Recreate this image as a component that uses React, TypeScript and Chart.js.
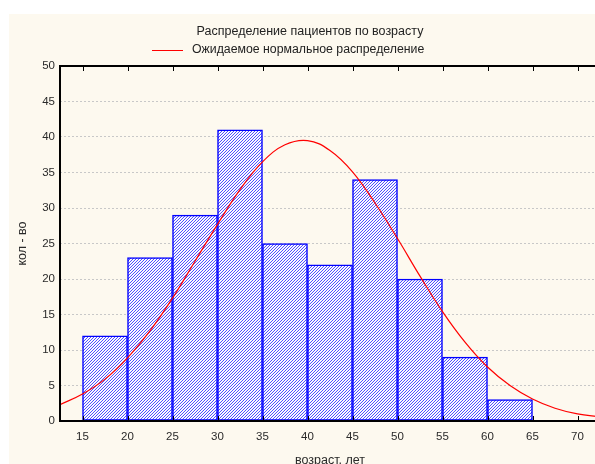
import React, { useEffect, useRef } from "react";
import { Chart, registerables } from "chart.js";

Chart.register(...registerables);

// ---- data ----
const BIN_STARTS = [15, 20, 25, 30, 35, 40, 45, 50, 55, 60];
const BIN_WIDTH = 5;
const PATIENT_COUNTS = [12, 23, 29, 41, 25, 22, 34, 20, 9, 3];

const CURVE_X = [12.5, 15, 17.5, 20, 22.5, 25, 27.5, 30, 32.5, 35, 37.5, 40, 42.5, 45, 47.5, 50, 52.5, 55, 57.5, 60, 62.5, 65, 67.5, 70, 72.5];
const CURVE_Y = [2.3, 3.8, 5.9, 8.9, 12.7, 17.3, 22.5, 27.7, 32.6, 36.5, 38.9, 39.5, 38.1, 35.1, 30.7, 25.7, 20.4, 15.4, 11.1, 7.6, 5.0, 3.1, 1.8, 1.0, 0.6];

const X_TICKS = [15, 20, 25, 30, 35, 40, 45, 50, 55, 60, 65, 70];
const X_MIN = 12.5;
const X_MAX = 72.5;
const Y_MIN = 0;
const Y_MAX = 50;
const Y_STEP = 5;

const TITLE = "Распределение пациентов по возрасту";
const LEGEND_LABEL = "Ожидаемое нормальное распределение";
const X_TITLE = "возраст, лет";
const Y_TITLE = "кол - во";

const FONT = "'Liberation Sans', Arial, sans-serif";
const CREAM = "#fdf9ef";

function makeHatch(): CanvasPattern | string {
  const c = document.createElement("canvas");
  c.width = 3;
  c.height = 3;
  const g = c.getContext("2d");
  if (!g) return "#8080ff";
  g.fillStyle = "#ffffff";
  g.fillRect(0, 0, 3, 3);
  g.fillStyle = "#5050ff";
  g.fillRect(0, 2, 1, 1);
  g.fillRect(1, 1, 1, 1);
  g.fillRect(2, 0, 1, 1);
  g.fillStyle = "#f2f2ff";
  g.fillRect(0, 1, 1, 1);
  g.fillRect(1, 0, 1, 1);
  g.fillRect(2, 2, 1, 1);
  const p = g.createPattern(c, "repeat");
  return p || "#8080ff";
}

const framePlugin = {
  id: "frame",
  afterDatasetsDraw(chart: any) {
    const { ctx, chartArea } = chart;
    const { left, right, top, bottom } = chartArea;
    const xs = chart.scales.x;
    ctx.save();
    ctx.strokeStyle = "#000000";
    ctx.lineWidth = 2;
    ctx.beginPath();
    ctx.moveTo(left, top);
    ctx.lineTo(right + 2, top);
    ctx.moveTo(left, top - 1);
    ctx.lineTo(left, bottom + 1);
    ctx.moveTo(left - 1, bottom);
    ctx.lineTo(right + 2, bottom);
    ctx.stroke();
    ctx.lineWidth = 1;
    ctx.beginPath();
    X_TICKS.forEach((v) => {
      const px = Math.round(xs.getPixelForValue(v)) + 0.5;
      ctx.moveTo(px, top);
      ctx.lineTo(px, top + 5);
      ctx.moveTo(px, bottom);
      ctx.lineTo(px, bottom - 5);
    });
    ctx.stroke();
    ctx.restore();
  },
  afterDraw(chart: any) {
    const { ctx } = chart;
    ctx.save();
    ctx.fillStyle = "#222222";
    ctx.font = "12.5px " + FONT;
    ctx.textBaseline = "middle";
    ctx.textAlign = "center";
    ctx.fillText(TITLE, 301, 18);
    ctx.strokeStyle = "#ff0000";
    ctx.lineWidth = 1;
    ctx.beginPath();
    ctx.moveTo(143, 36.5);
    ctx.lineTo(174, 36.5);
    ctx.stroke();
    ctx.textAlign = "left";
    ctx.font = "12.3px " + FONT;
    ctx.fillText(LEGEND_LABEL, 183, 36);
    ctx.restore();
  },
};

export default function App() {
  const ref = useRef<HTMLCanvasElement | null>(null);

  useEffect(() => {
    const canvas = ref.current;
    if (!canvas) return;
    const hatch = makeHatch();
    const chart = new Chart(canvas, {
      type: "bar",
      data: {
        datasets: [
          {
            type: "line",
            label: LEGEND_LABEL,
            data: CURVE_X.map((x, i) => ({ x, y: CURVE_Y[i] })),
            borderColor: "#ff0000",
            borderWidth: 1.2,
            pointRadius: 0,
            tension: 0.4,
            fill: false,
            order: 0,
          } as any,
          {
            type: "bar",
            label: "count",
            data: BIN_STARTS.map((s, i) => ({ x: s + BIN_WIDTH / 2, y: PATIENT_COUNTS[i] })),
            backgroundColor: hatch as any,
            borderColor: "#0000ff",
            borderWidth: 1.5,
            borderSkipped: false,
            barPercentage: 1,
            categoryPercentage: 1,
            order: 1,
          } as any,
        ],
      },
      options: {
        animation: false,
        responsive: false,
        maintainAspectRatio: false,
        layout: { padding: { top: 52, right: 9, bottom: 0, left: 0 } },
        plugins: {
          legend: { display: false },
          title: { display: false },
          tooltip: { enabled: false },
        },
        scales: {
          x: {
            type: "linear",
            min: X_MIN,
            max: X_MAX,
            offset: false,
            afterBuildTicks: (scale: any) => {
              scale.ticks = X_TICKS.map((v) => ({ value: v }));
            },
            afterFit: (scale: any) => {
              scale.height = 53;
            },
            grid: { display: false, drawTicks: false },
            border: { display: false },
            ticks: {
              autoSkip: false,
              maxRotation: 0,
              padding: 9,
              color: "#2a2a2a",
              font: { family: FONT, size: 11.5 },
              callback: (v: any) => String(v),
            },
            title: {
              display: true,
              text: X_TITLE,
              color: "#2a2a2a",
              font: { family: FONT, size: 12.5 },
              padding: { top: 6, bottom: 6 },
            },
          },
          y: {
            type: "linear",
            min: Y_MIN,
            max: Y_MAX,
            afterFit: (scale: any) => {
              scale.width = 51;
            },
            grid: {
              drawTicks: false,
              color: (c: any) =>
                c.tick && (c.tick.value === Y_MIN || c.tick.value === Y_MAX) ? "rgba(0,0,0,0)" : "#c8c8c8",
              lineWidth: 1,
            },
            border: { display: false, dash: [2, 2] },
            ticks: {
              stepSize: Y_STEP,
              padding: 5,
              color: "#2a2a2a",
              font: { family: FONT, size: 11.5 },
            },
            title: {
              display: true,
              text: Y_TITLE,
              color: "#2a2a2a",
              font: { family: FONT, size: 12.5 },
              padding: { top: 6, bottom: 6 },
            },
          },
        },
      } as any,
      plugins: [framePlugin],
    });
    return () => chart.destroy();
  }, []);

  return (
    <div
      style={{
        position: "fixed",
        left: 0,
        top: 0,
        width: 595,
        height: 464,
        overflow: "hidden",
        background: "#ffffff",
      }}
    >
      <div
        style={{
          position: "absolute",
          left: 9,
          top: 14,
          width: 600,
          height: 460,
          background: CREAM,
        }}
      >
        <canvas ref={ref} width={600} height={460} style={{ width: 600, height: 460, display: "block" }} />
      </div>
    </div>
  );
}
